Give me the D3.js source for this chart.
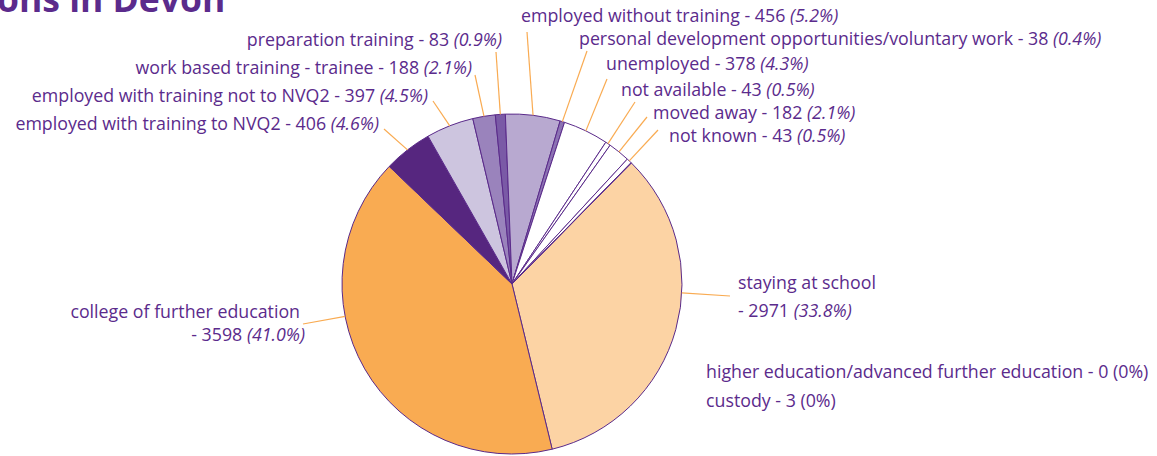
<!DOCTYPE html>
<html>
<head>
<meta charset="utf-8">
<script src="https://cdn.jsdelivr.net/npm/d3@7/dist/d3.min.js"></script>
<style>
  body { margin: 0; background: #fff; }
  svg { display: block; font-family: "Open Sans", "Noto Sans", sans-serif; }
  .lbl { fill: #5b2b8c; font-size: 17.8px; }
  .pct { font-style: italic; }
</style>
</head>
<body>
<svg width="1157" height="456"></svg>
<script>
"use strict";

// destinations, clockwise from the "staying at school" slice
var categories = ["staying at school", "college of further education",
    "employed with training to NVQ2", "employed with training not to NVQ2",
    "work based training - trainee", "preparation training",
    "employed without training", "personal development opportunities/voluntary work",
    "unemployed", "not available", "moved away", "not known",
    "custody", "higher education/advanced further education"];
var counts = [2971, 3598, 406, 397, 188, 83, 456, 38, 378, 43, 182, 43, 3, 0];
var percents = ["33.8%", "41.0%", "4.6%", "4.5%", "2.1%", "0.9%", "5.2%", "0.4%",
    "4.3%", "0.5%", "2.1%", "0.5%", "0%", "0%"];
var colors = ["#fcd3a4", "#f9ab52", "#56267f", "#cdc5df", "#9a83bc", "#7a5aa6",
    "#b8a9d0", "#8c72b3", "#ffffff", "#ffffff", "#ffffff", "#ffffff", "#ffffff", "#ffffff"];

// label placement: [x, y, anchor, line end x, line end y, line start angle (deg) or null = slice middle]
var labelPos = [
    [738, 289, "start", 730, 296, 93],
    [300, 318, "end", 303, 324, 259],
    [379, 130, "end", 384, 129, null],
    [428, 102, "end", 433, 101, null],
    [472, 74, "end", 475, 75, null],
    [502, 46, "end", 496, 52, null],
    [521, 22, "start", 527, 32, null],
    [579, 45, "start", 587, 51, null],
    [606, 70, "start", 607, 79, null],
    [621, 96, "start", 635, 102, null],
    [653, 119, "start", 647, 117, null],
    [669, 142, "start", 658, 130, null],
    [706, 407, "start", null, null, null],
    [706, 378, "start", null, null, null]
];

window.onload = renderMyChart;

function renderMyChart() {
    var svg = d3.select("svg"),
        cx = 512, cy = 284, radius = 170;

    var data = categories.map(function (c, i) {
        return { name: c, value: counts[i], pct: percents[i], color: colors[i], pos: labelPos[i] };
    });

    var startA = 44.6 * Math.PI / 180;
    var pie = d3.pie()
        .sort(null)
        .value(function (d) { return d.value; })
        .startAngle(startA)
        .endAngle(startA + 2 * Math.PI);

    var arc = d3.arc().innerRadius(0).outerRadius(radius);

    var g = svg.append("g")
        .attr("transform", "translate(" + cx + "," + cy + ")");

    var arcs = pie(data);

    g.selectAll(".slice")
        .data(arcs.filter(function (d) { return d.data.value > 0; }))
        .enter().append("path")
        .attr("class", "slice")
        .attr("d", arc)
        .attr("fill", function (d) { return d.data.color; })
        .attr("stroke", "#5a2a8a")
        .attr("stroke-width", 1)
        .attr("stroke-linejoin", "round");

    function leaderAngle(d) {
        if (d.data.pos[5] !== null) return d.data.pos[5] * Math.PI / 180;
        return (d.startAngle + d.endAngle) / 2;
    }

    // leader lines
    g.selectAll(".leader")
        .data(arcs.filter(function (d) { return d.data.pos[3] !== null; }))
        .enter().append("line")
        .attr("class", "leader")
        .attr("x1", function (d) { return radius * Math.sin(leaderAngle(d)); })
        .attr("y1", function (d) { return -radius * Math.cos(leaderAngle(d)); })
        .attr("x2", function (d) { return d.data.pos[3] - cx; })
        .attr("y2", function (d) { return d.data.pos[4] - cy; })
        .attr("stroke", "#f9ab52")
        .attr("stroke-width", 1.2);

    // labels
    data.forEach(function (d, i) {
        var p = d.pos;
        var twoLine = (i === 0 || i === 1);
        var t = svg.append("text")
            .attr("class", "lbl")
            .attr("x", p[0])
            .attr("y", p[1])
            .attr("text-anchor", p[2]);
        if (twoLine) {
            t.text(d.name);
            var t2 = svg.append("text")
                .attr("class", "lbl")
                .attr("x", i === 1 ? p[0] + 5 : p[0])
                .attr("y", p[1] + (i === 1 ? 23 : 28))
                .attr("text-anchor", p[2]);
            t2.append("tspan").text("- " + d.value + " ");
            t2.append("tspan").attr("class", "pct").text("(" + d.pct + ")");
        } else if (i >= 12) {
            t.text(d.name + " - " + d.value + " (" + d.pct + ")");
        } else {
            t.append("tspan").text(d.name + " - " + d.value + " ");
            t.append("tspan").attr("class", "pct").text("(" + d.pct + ")");
        }
    });

    // title, cut off at the top-left corner as in the source
    svg.append("text")
        .attr("x", -3)
        .attr("y", 12)
        .attr("fill", "#5b2b8c")
        .attr("font-size", 35.5)
        .attr("font-weight", "bold")
        .text("ons in Devon");
}
</script>
</body>
</html>
